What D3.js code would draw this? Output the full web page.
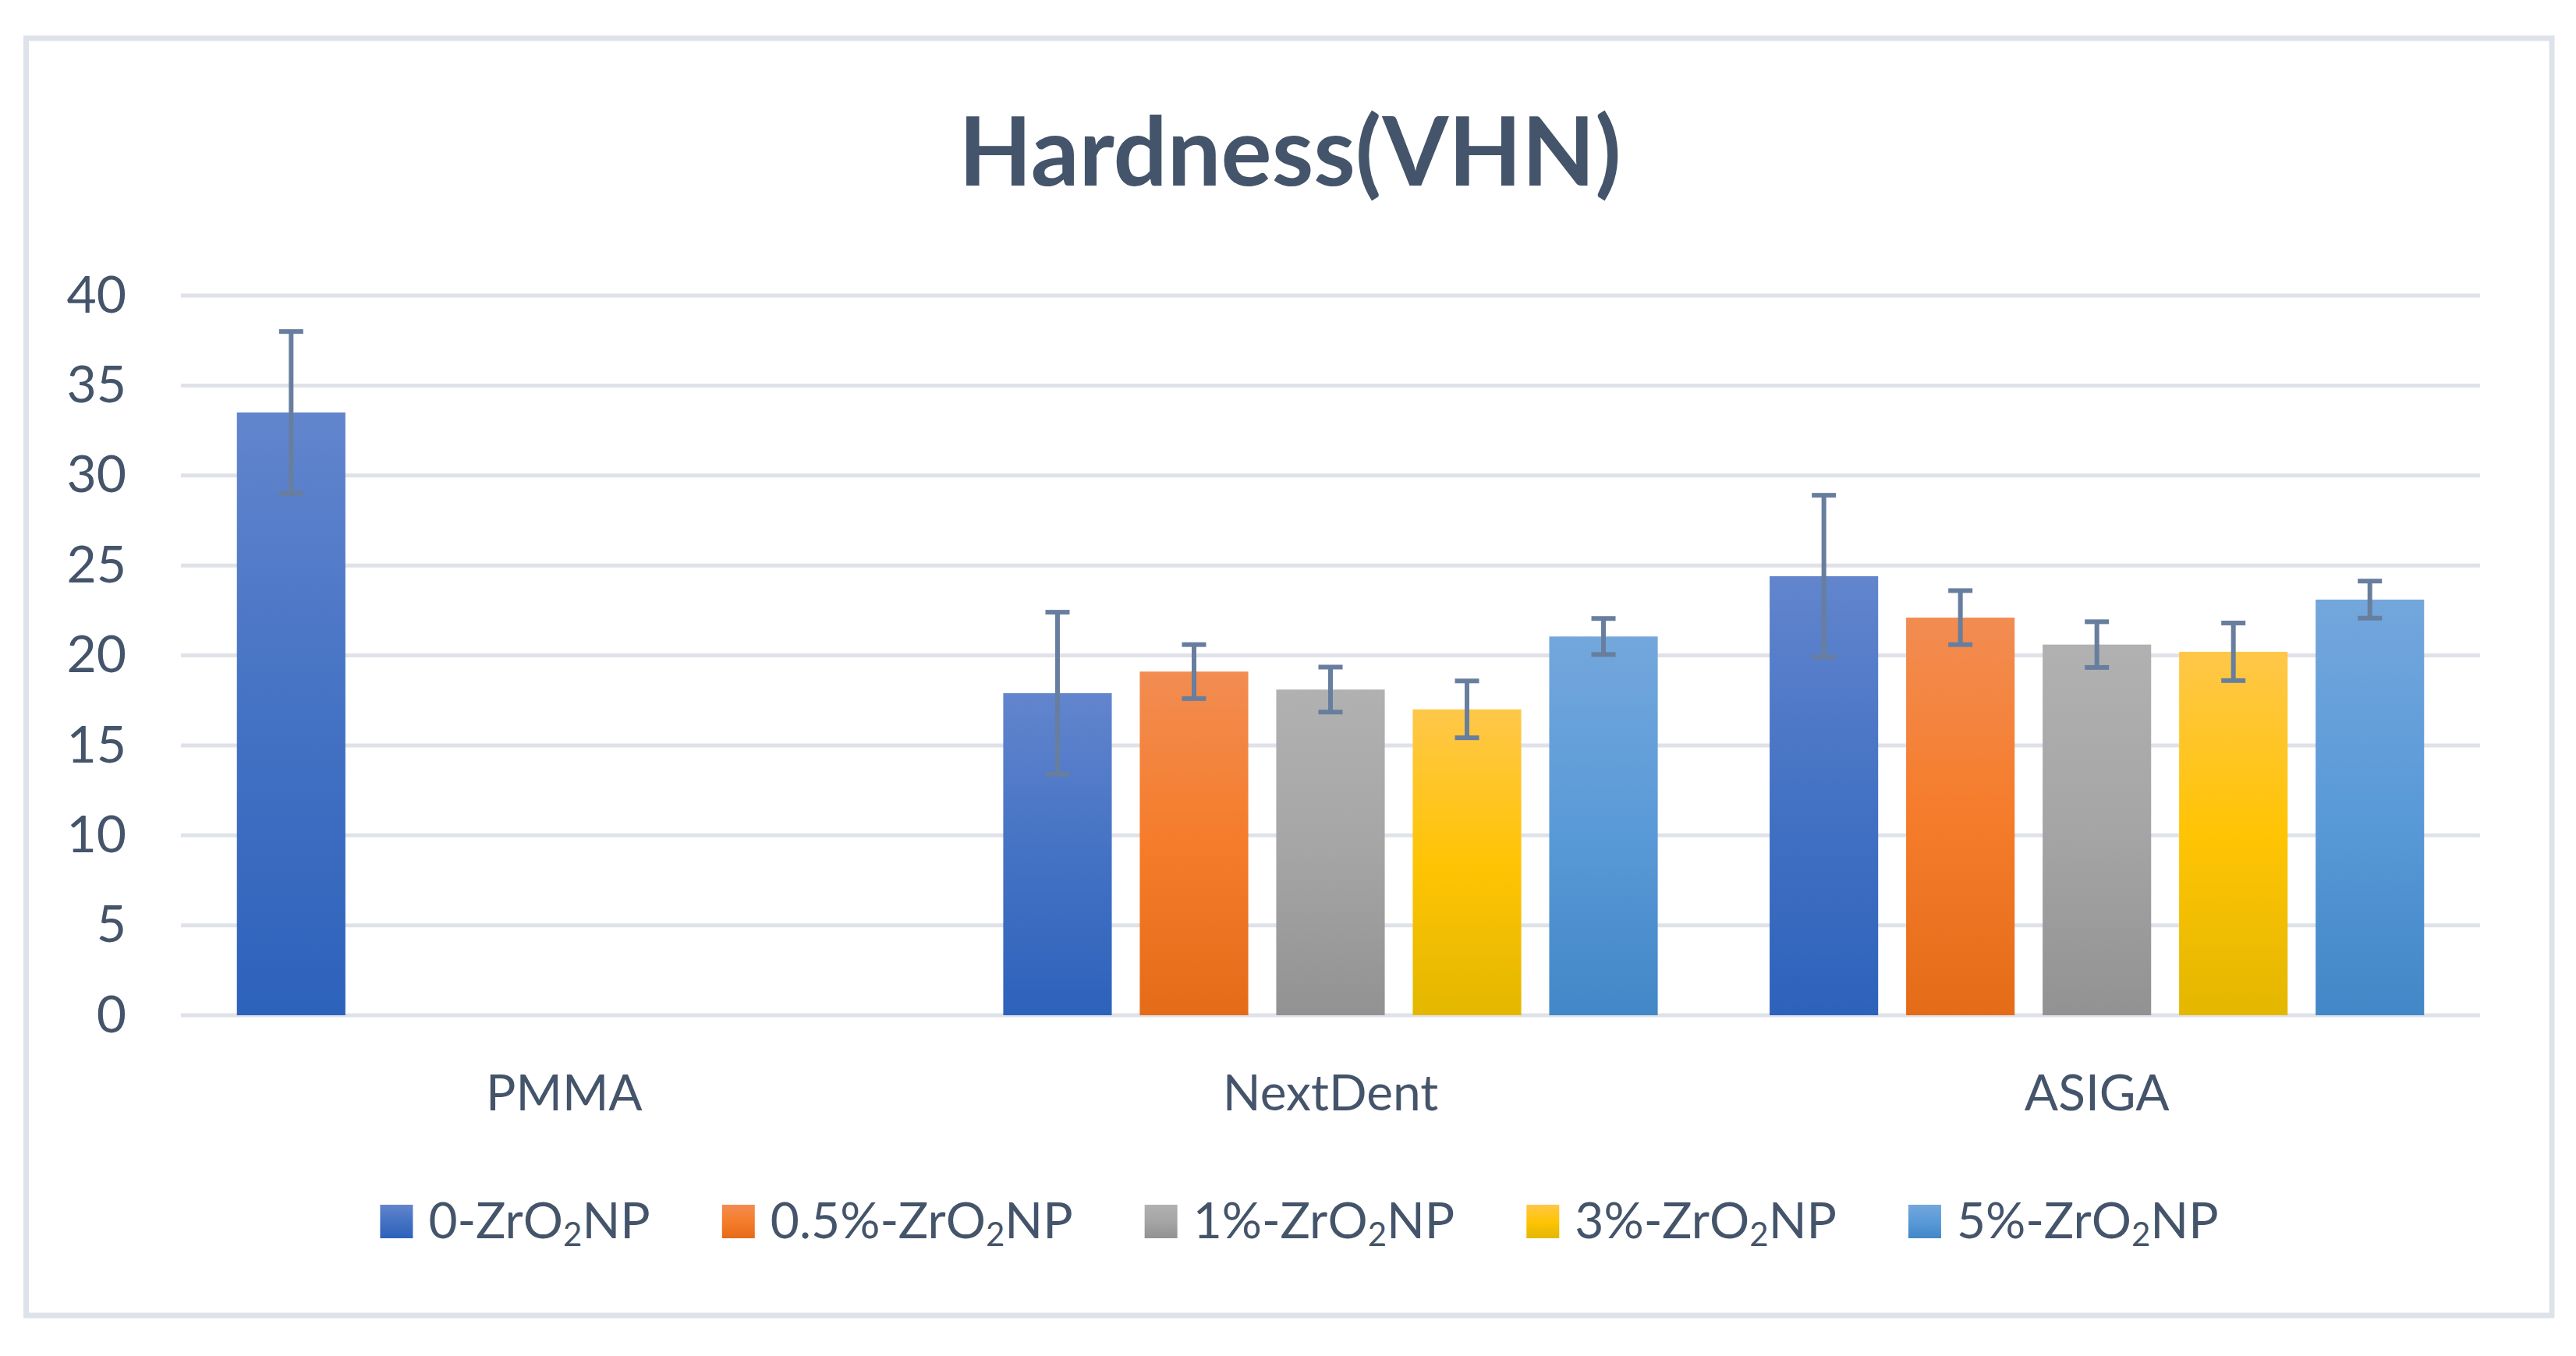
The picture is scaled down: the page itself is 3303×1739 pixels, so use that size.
<!DOCTYPE html>
<html>
<head>
<meta charset="utf-8">
<script src="https://cdn.jsdelivr.net/npm/d3@7"></script>
<style>
  body { margin: 0; background: #fff; }
  text { font-family: Lato, "Open Sans", sans-serif; fill: #44546a; }
</style>
</head>
<body>
<svg id="chart" width="3303" height="1739"></svg>
<script>
// data
const categories = ["PMMA", "NextDent", "ASIGA"];
const seriesNames = ["0-ZrO2NP", "0.5%-ZrO2NP", "1%-ZrO2NP", "3%-ZrO2NP", "5%-ZrO2NP"];
const zr0 = [33.5, 17.9, 24.4];
const zr05 = [null, 19.1, 22.1];
const zr1 = [null, 18.1, 20.6];
const zr3 = [null, 17.0, 20.2];
const zr5 = [null, 21.05, 23.1];
const zr0Err = [4.5, 4.5, 4.5];
const zr05Err = [null, 1.5, 1.5];
const zr1Err = [null, 1.25, 1.27];
const zr3Err = [null, 1.58, 1.6];
const zr5Err = [null, 1.0, 1.03];
const yTicks = [0, 5, 10, 15, 20, 25, 30, 35, 40];

const values = [zr0, zr05, zr1, zr3, zr5];
const errors = [zr0Err, zr05Err, zr1Err, zr3Err, zr5Err];

// gradient colours (top, middle, bottom) per series
const grads = [
  ["#6285cd", "#4472c4", "#2d62bb"],
  ["#f28c52", "#f57c2a", "#e46b18"],
  ["#b1b1b1", "#a5a5a5", "#929292"],
  ["#ffc749", "#ffc404", "#e3b700"],
  ["#73a7dc", "#5a9ad8", "#4287c7"]
];

const svg = d3.select("#chart");
svg.append("rect").attr("width", 3303).attr("height", 1739).attr("fill", "#fff");

// chart area border
svg.append("rect")
  .attr("x", 33.5).attr("y", 49).attr("width", 3238.5).attr("height", 1638)
  .attr("fill", "none").attr("stroke", "#dee2ea").attr("stroke-width", 7);

const defs = svg.append("defs");
grads.forEach((g, i) => {
  const lg = defs.append("linearGradient").attr("id", "g" + i)
    .attr("x1", 0).attr("y1", 0).attr("x2", 0).attr("y2", 1);
  lg.append("stop").attr("offset", "0%").attr("stop-color", g[0]);
  lg.append("stop").attr("offset", "50%").attr("stop-color", g[1]);
  lg.append("stop").attr("offset", "100%").attr("stop-color", g[2]);
});

const plotL = 232, plotR = 3180, plotT = 379, plotB = 1302;

const y = d3.scaleLinear().domain([0, 40]).range([plotB, plotT]);
const x0 = d3.scaleBand().domain(categories).range([plotL, plotR])
  .paddingInner(0.146).paddingOuter(0.073);
const x1 = d3.scaleBand().domain(d3.range(seriesNames.length)).range([0, x0.bandwidth()])
  .paddingInner(0.205).paddingOuter(0);

// title
svg.append("text")
  .attr("x", 1654).attr("y", 238)
  .attr("text-anchor", "middle")
  .style("font-size", "122px").style("font-weight", "bold")
  .text("Hardness(VHN)");

// gridlines
svg.append("g").selectAll("line").data(yTicks).enter().append("line")
  .attr("x1", plotL).attr("x2", plotR)
  .attr("y1", d => y(d)).attr("y2", d => y(d))
  .attr("stroke", "#dfe2e8").attr("stroke-width", 5);

// y axis labels
const yAxis = d3.axisLeft(y).tickValues(yTicks).tickSize(0).tickPadding(0);
const ya = svg.append("g").attr("transform", "translate(162,0)").call(yAxis);
ya.select(".domain").remove();
ya.selectAll("text")
  .attr("fill", "#44546a")
  .style("font-size", "66px").style("font-family", "Lato, sans-serif");

// bars
const groups = svg.append("g").selectAll("g").data(categories).enter().append("g")
  .attr("transform", d => `translate(${x0(d)},0)`);

values.forEach((vals, s) => {
  groups.filter((c, ci) => vals[ci] != null)
    .append("rect")
    .attr("x", x1(s))
    .attr("width", x1.bandwidth())
    .attr("y", (c) => y(vals[categories.indexOf(c)]))
    .attr("height", (c) => plotB - y(vals[categories.indexOf(c)]))
    .attr("fill", `url(#g${s})`);
});

// error bars
values.forEach((vals, s) => {
  const errs = errors[s];
  groups.filter((c, ci) => vals[ci] != null).each(function(c) {
    const ci = categories.indexOf(c);
    const cx = x1(s) + x1.bandwidth() / 2;
    const hi = y(vals[ci] + errs[ci]), lo = y(vals[ci] - errs[ci]);
    const g = d3.select(this).append("g")
      .attr("stroke", "#687e9e").attr("stroke-width", 6);
    g.append("line").attr("x1", cx).attr("x2", cx).attr("y1", hi).attr("y2", lo);
    g.append("line").attr("x1", cx - 15.5).attr("x2", cx + 15.5).attr("y1", hi).attr("y2", hi);
    g.append("line").attr("x1", cx - 15.5).attr("x2", cx + 15.5).attr("y1", lo).attr("y2", lo);
  });
});

// category labels
const xAxis = d3.axisBottom(x0).tickSize(0).tickPadding(0);
const xa = svg.append("g").attr("transform", "translate(0,1378)").call(xAxis);
xa.select(".domain").remove();
xa.selectAll("text")
  .attr("fill", "#44546a").attr("dy", "0.72em")
  .style("font-size", "64px").style("font-family", "Lato, sans-serif");

// legend
const legend = svg.append("g");
const items = legend.selectAll("g").data(seriesNames).enter().append("g");
items.append("rect")
  .attr("width", 42).attr("height", 43).attr("y", 1545)
  .attr("fill", (d, i) => `url(#g${i})`);
const lt = items.append("text")
  .attr("x", 62).attr("y", 1588)
  .style("font-size", "64px");
lt.each(function(d) {
  const t = d3.select(this);
  const parts = d.split("2");
  t.append("tspan").text(parts[0]);
  t.append("tspan").attr("dy", 10).style("font-size", "42px").text("2");
  t.append("tspan").attr("dy", -10).text(parts[1]);
});
let pos = 0;
const offsets = [];
items.each(function() {
  offsets.push(pos);
  const w = d3.select(this).select("text").node().getComputedTextLength();
  pos += 62 + w + 92;
});
const total = pos - 92;
const start = 1666 - total / 2;
items.attr("transform", (d, i) => `translate(${start + offsets[i]},0)`);
</script>
</body>
</html>
